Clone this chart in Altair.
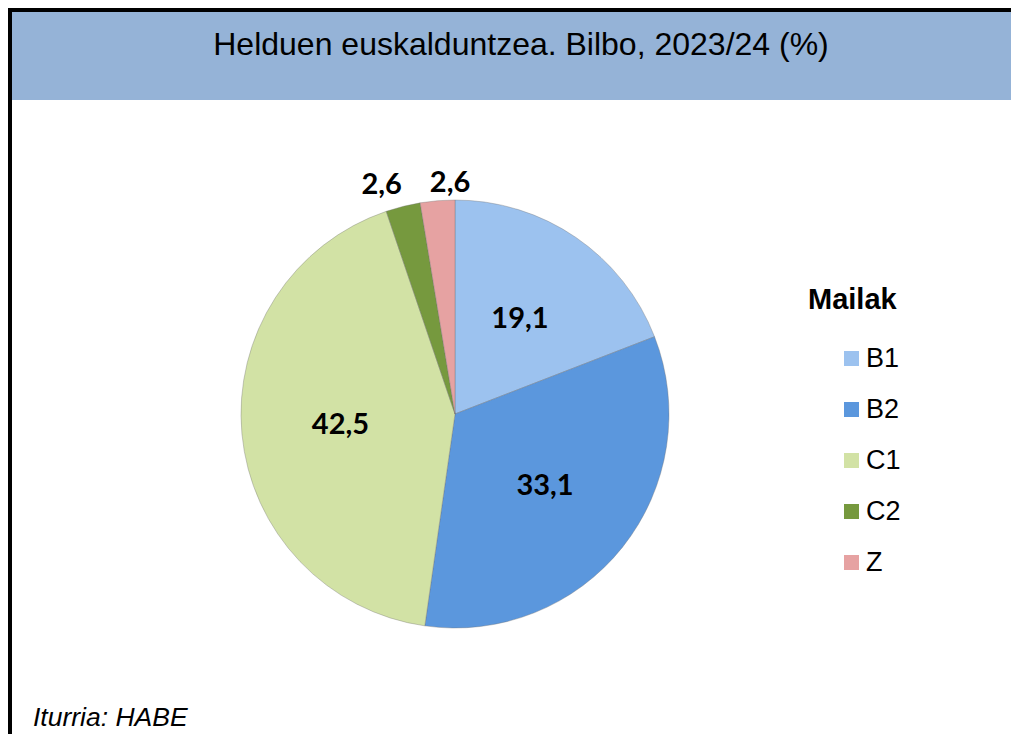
import altair as alt
import pandas as pd

# ---- data ----
categories = ["B1", "B2", "C1", "C2", "Z"]
values = [19.1, 33.1, 42.5, 2.6, 2.6]
value_labels = ["19,1", "33,1", "42,5", "2,6", "2,6"]
colors = ["#9CC2EF", "#5B97DD", "#D2E2A5", "#76993E", "#E6A2A2"]

title_text = "Helduen euskalduntzea. Bilbo, 2023/24 (%)"
legend_title = "Mailak"
source_text = "Iturria: HABE"

df = pd.DataFrame({
    "maila": categories,
    "value": values,
    "label": value_labels,
    "idx": list(range(len(categories))),
})
one = pd.DataFrame({"k": [0]})

W, H = 1003, 726
CX, CY, R = 447, 406, 214

# ---- decoration: banner and borders ----
banner = alt.Chart(one).mark_rect(color="#95B3D7").encode(
    x=alt.value(4), x2=alt.value(W), y=alt.value(4), y2=alt.value(92))
top_bar = alt.Chart(one).mark_rect(color="#000000").encode(
    x=alt.value(0), x2=alt.value(W), y=alt.value(0), y2=alt.value(4))
left_bar = alt.Chart(one).mark_rect(color="#000000").encode(
    x=alt.value(0), x2=alt.value(4), y=alt.value(0), y2=alt.value(H))

title = alt.Chart(one).mark_text(
    text=title_text, font="Liberation Sans", fontSize=32, color="#000000",
    align="center", baseline="middle").encode(x=alt.value(513), y=alt.value(37))

source = alt.Chart(one).mark_text(
    text=source_text, font="Liberation Sans", fontSize=26.5, fontStyle="italic",
    color="#000000", align="left", baseline="middle").encode(x=alt.value(25), y=alt.value(710))

leg_title = alt.Chart(one).mark_text(
    text=legend_title, font="Liberation Sans", fontSize=29, fontWeight="bold",
    color="#000000", align="left", baseline="middle").encode(x=alt.value(800), y=alt.value(292))

# ---- pie ----
base = alt.Chart(df)

pie = base.mark_arc(radius=R, stroke="#6f6f6f", strokeWidth=0.8, strokeOpacity=0.45).encode(
    theta=alt.Theta("value:Q", stack=True),
    order=alt.Order("idx:Q"),
    color=alt.Color(
        "maila:N",
        sort=categories,
        scale=alt.Scale(domain=categories, range=colors),
        legend=alt.Legend(
            title=None, orient="none", legendX=830, legendY=337, padding=0,
            symbolType="square", symbolSize=225, symbolStrokeWidth=0,
            labelFont="Liberation Sans", labelFontSize=27, labelColor="#000000",
            labelOffset=1, rowPadding=23,
        ),
    ),
    x=alt.value(CX), y=alt.value(CY),
)

text_common = dict(font="Lato", fontWeight="bold", fontSize=29, color="#000000",
                   align="center", baseline="middle")

inner = base.mark_text(radius=115, **text_common).encode(
    theta=alt.Theta("value:Q", stack=True),
    order=alt.Order("idx:Q"),
    text=alt.condition(alt.datum.value > 5, alt.Text("label:N"), alt.value("")),
    x=alt.value(CX), y=alt.value(CY),
)

outer_c2 = base.mark_text(radius=232, dx=-17, dy=-4, **text_common).encode(
    theta=alt.Theta("value:Q", stack=True),
    order=alt.Order("idx:Q"),
    text=alt.condition(alt.datum.maila == "C2", alt.Text("label:N"), alt.value("")),
    x=alt.value(CX), y=alt.value(CY),
)

outer_z = base.mark_text(radius=232, dx=14, dy=0, **text_common).encode(
    theta=alt.Theta("value:Q", stack=True),
    order=alt.Order("idx:Q"),
    text=alt.condition(alt.datum.maila == "Z", alt.Text("label:N"), alt.value("")),
    x=alt.value(CX), y=alt.value(CY),
)

chart = alt.layer(
    banner, top_bar, left_bar, title, source, leg_title,
    pie, inner, outer_c2, outer_z,
).properties(
    width=W, height=H, padding=0,
    autosize=alt.AutoSizeParams(type="none"),
    background="#ffffff",
).configure_view(stroke=None)

chart.save("out.html", embed_options={"renderer": "svg", "actions": False})
